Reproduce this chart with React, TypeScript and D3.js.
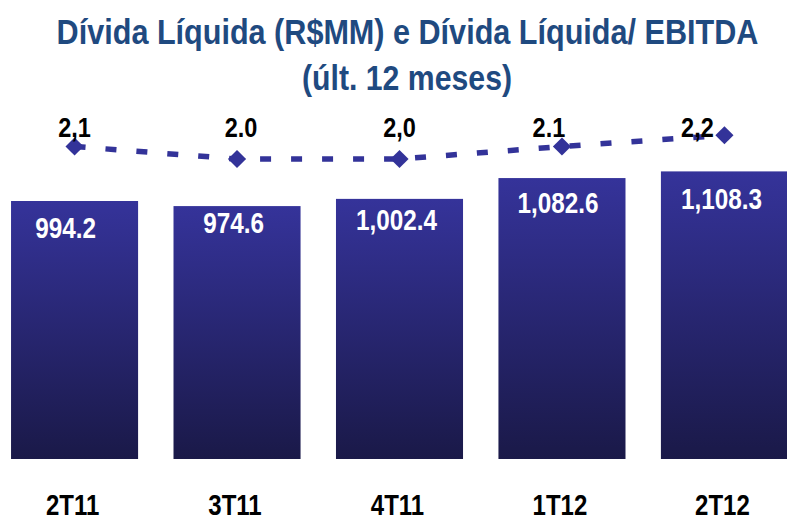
import React from 'react';
import * as d3 from 'd3';

const categories = ['2T11', '3T11', '4T11', '1T12', '2T12'];
const debtValues = [994.2, 974.6, 1002.4, 1082.6, 1108.3];
const debtLabels = ['994.2', '974.6', '1,002.4', '1,082.6', '1,108.3'];
const ratioValues = [2.1, 2.0, 2.0, 2.1, 2.19];
const ratioLabels = ['2,1', '2.0', '2,0', '2.1', '2,2'];

// hand placement of labels, as in the original slide
const barLabelDx = [-9, -3.5, -3, -4, -3];
const barLabelDy = [37, 27, 31, 35, 38];
const ratioLabelDx = [0, 4, 0, -13, -27];

const W = 787;
const H = 521;
const FONT = "'Liberation Sans', Arial, sans-serif";

// no Arial Narrow here, so squeeze the regular bold face horizontally
const Narrow = ({ x, y, sx = 0.82, size, fill, children }: any) => (
  <g transform={`translate(${x},${y}) scale(${sx},1)`}>
    <text x={0} y={0} textAnchor="middle" fill={fill} fontSize={size}>{children}</text>
  </g>
);

const App = () => {
  const x = d3.scaleBand<string>()
    .domain(categories)
    .range([6, 793])
    .paddingInner(0.218)
    .paddingOuter(0.031);

  const y = d3.scaleLinear().domain([0, 1200]).range([459, 147.6]);
  const y2 = d3.scaleLinear().domain([1.5, 2.5]).range([221.5, 96.5]);

  const cx = (i: number) => (x(categories[i]) as number) + x.bandwidth() / 2;

  const line = d3.line<number>()
    .x((_, i) => cx(i))
    .y(d => y2(d));

  const diamond = d3.symbol().type(d3.symbolSquare).size(165)();

  return (
    <svg width={W} height={H} style={{ position: 'absolute', left: 0, top: 0 }} fontFamily={FONT} fontWeight="bold">
      <defs>
        <linearGradient id="barGrad" x1="0" y1="0" x2="0" y2="1">
          <stop offset="0" stopColor="#35339a" />
          <stop offset="1" stopColor="#1a1948" />
        </linearGradient>
      </defs>

      {/* title */}
      <Narrow x={407.5} y={44} sx={0.85} size={36} fill="#1f4a80">
        Dívida Líquida (R$MM) e Dívida Líquida/ EBITDA
      </Narrow>
      <Narrow x={407} y={90} sx={0.84} size={36} fill="#1f4a80">
        (últ. 12 meses)
      </Narrow>

      {/* bars */}
      {debtValues.map((v, i) => (
        <rect key={categories[i]} x={x(categories[i])} y={y(v)} width={x.bandwidth()} height={y(0) - y(v)} fill="url(#barGrad)" />
      ))}
      {debtValues.map((v, i) => (
        <Narrow key={'bl' + i} x={cx(i) + barLabelDx[i]} y={y(v) + barLabelDy[i]} sx={0.81} size={30} fill="#ffffff">
          {debtLabels[i]}
        </Narrow>
      ))}

      {/* ratio line */}
      <path d={line(ratioValues) || ''} fill="none" stroke="#333399" strokeWidth={5.5} strokeDasharray="11 20" />
      {ratioValues.map((v, i) => (
        <path key={'m' + i} d={diamond || ''} transform={`translate(${cx(i)},${y2(v)}) rotate(45)`} fill="#333399" />
      ))}
      {ratioValues.map((v, i) => (
        <Narrow key={'rl' + i} x={cx(i) + ratioLabelDx[i]} y={137} sx={0.84} size={28} fill="#000000">
          {ratioLabels[i]}
        </Narrow>
      ))}

      {/* category axis labels */}
      {categories.map((c, i) => (
        <Narrow key={'c' + i} x={cx(i) - 2} y={515} sx={0.8} size={30} fill="#000000">
          {c}
        </Narrow>
      ))}
    </svg>
  );
};

export default App;
